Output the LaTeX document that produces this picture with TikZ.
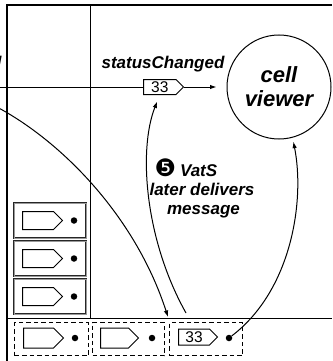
\documentclass[tikz,border=0pt]{standalone}
\usepackage{fontspec}
\setmainfont{Liberation Sans}
\newfontfamily\dingfont{DejaVu Sans}
\usetikzlibrary{arrows.meta,shapes.symbols}
\begin{document}
\begin{tikzpicture}[x=1pt,y=-1pt,
  thinln/.style={line width=1pt},
  heavy/.style={line width=2.2pt},
  arr/.style={line width=1pt,-{Latex[length=6.5pt,width=4.5pt]}},
  tagbox/.style={signal, signal to=east, signal pointer angle=90, draw, line width=1pt, inner sep=0pt, anchor=west, font=\fontsize{15.5}{15.5}\selectfont},
  dotnode/.style={circle, fill, inner sep=0pt, minimum size=6.5pt},
  qbox/.style={draw, dash pattern=on 4.5pt off 3pt, line width=1.1pt, anchor=north west, minimum height=33pt, inner sep=0pt},
  stackbox/.style={draw=black!85, line width=0.6pt, double=black!40, double distance=0.5pt, anchor=north west, minimum width=72pt, minimum height=35pt, inner sep=0pt},
  lbl/.style={font=\bfseries\itshape\fontsize{17}{19}\selectfont},
]
\fill[white] (0,0) rectangle (332,361);
\useasboundingbox (0,0) rectangle (332,361);

% frame lines
\draw[heavy] (332,5) -- (7,5) -- (7,361);
\draw[thinln] (90,5) -- (90,318);
\draw[thinln] (7,318) -- (332,318);

% top message tag and cell viewer
\node[tagbox, minimum width=40pt, minimum height=15pt] (t1) at (143,87) {33};
\coordinate (lin) at (0,87);
\draw[thinln] (lin) -- (t1.west);
\node[circle, draw, line width=1pt, minimum size=104pt, inner sep=0pt, align=center,
      font=\bfseries\itshape\fontsize{22}{24}\selectfont] (cv) at (279,87) {cell\\viewer};
\draw[arr, shorten >=10pt] (t1.east) -- (cv.west);

\node[lbl, anchor=base] (sc) at (163,68) {statusChanged};
\node[lbl, anchor=base east] (dd) at (5,68) {d};

% stack of messages
\node[stackbox] (s1) at (14,203) {};
\node[stackbox] (s2) at (14,241) {};
\node[stackbox] (s3) at (14,279) {};
\node[tagbox, minimum width=40pt, minimum height=18pt] (s1t) at (22,220.5) {};
\node[tagbox, minimum width=40pt, minimum height=18pt] (s2t) at (22,258.5) {};
\node[tagbox, minimum width=40pt, minimum height=18pt] (s3t) at (22,296.5) {};
\node[dotnode] (s1d) at (74,220.5) {};
\node[dotnode] (s2d) at (74,258.5) {};
\node[dotnode] (s3d) at (74,296.5) {};

% queue
\node[qbox, minimum width=74pt] (q1) at (14,322) {};
\node[qbox, minimum width=72pt] (q2) at (92,322) {};
\node[qbox, minimum width=73pt] (q3) at (169,322) {};
\node[tagbox, minimum width=40pt, minimum height=20pt] (q1t) at (23,338) {};
\node[tagbox, minimum width=38pt, minimum height=20pt] (q2t) at (100,338) {};
\node[tagbox, minimum width=39pt, minimum height=16pt] (q3t) at (178,337) {33};
\node[dotnode] (q1d) at (75,338) {};
\node[dotnode] (q2d) at (152,338) {};
\node[dotnode] (q3d) at (229,338) {};

% connectors
\coordinate (astart) at (-5,106);
\coordinate (aend) at (168,317);
\draw[arr] (astart) .. controls (60,140) and (135,215) .. (aend);
\coordinate (bstart) at (186,313);
\draw[arr, shorten >=7pt] (bstart) .. controls (145,240) and (138,150) .. (t1.south);
\draw[arr, shorten >=4pt] (q3d) .. controls (292,290) and (305,200) .. (cv.-75);

% label 5
\node[lbl, anchor=base west] (n5) at (151,176) {{\dingfont\mdseries\upshape\fontsize{24}{19}\selectfont ❺}\hspace{4pt}VatS};
\node[lbl, anchor=base] (n6) at (202,195) {later delivers};
\node[lbl, anchor=base] (n7) at (203.5,214) {message};
\end{tikzpicture}
\end{document}
